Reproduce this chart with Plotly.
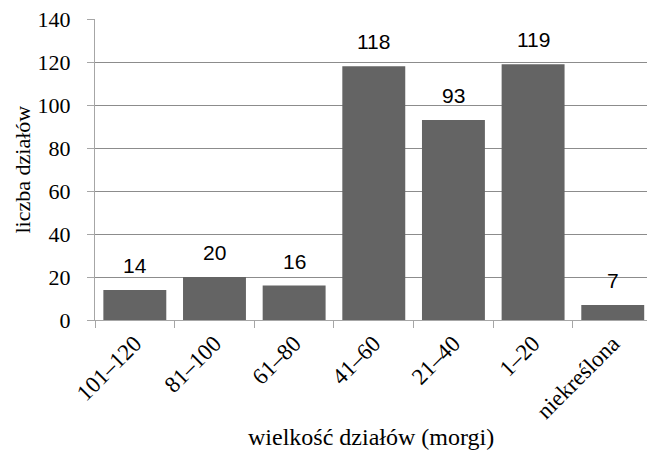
import plotly.graph_objects as go

categories = ["101–120", "81–100", "61–80", "41–60", "21–40", "1–20", "niekreślona"]
values = [14, 20, 16, 118, 93, 119, 7]
y_ticks = [0, 20, 40, 60, 80, 100, 120, 140]

serif = "Liberation Serif"

fig = go.Figure(go.Bar(
    x=categories, y=values,
    marker=dict(color="#646464", line=dict(width=0)),
    cliponaxis=False,
))

annotations = []
for c, v in zip(categories, values):
    annotations.append(dict(
        x=c, y=v, xref="x", yref="y", text=str(v), showarrow=False,
        yanchor="bottom", yshift=11,
        font=dict(family="Liberation Sans", size=21, color="#000000"),
    ))
annotations.append(dict(
    x=0.5, y=0, xref="paper", yref="paper", text="wielkość działów (morgi)",
    showarrow=False, xanchor="center", yanchor="middle", yshift=-117,
    font=dict(family=serif, size=24, color="#000000"),
))
annotations.append(dict(
    x=0, y=0.5, xref="paper", yref="paper", text="liczba działów",
    showarrow=False, xanchor="center", yanchor="middle", xshift=-73, textangle=-90,
    font=dict(family=serif, size=22, color="#000000"),
))

fig.update_layout(
    width=649, height=452,
    margin=dict(l=95, r=2, t=19, b=132),
    paper_bgcolor="white", plot_bgcolor="white",
    bargap=0.21,
    showlegend=False,
    annotations=annotations,
    xaxis=dict(
        type="category", tickangle=-45, tickson="boundaries",
        range=[-0.5, 6.43],
        ticks="outside", ticklen=7, tickcolor="#a6a6a6",
        showline=True, linecolor="#a6a6a6", linewidth=1,
        tickfont=dict(family=serif, size=23, color="#000000"),
    ),
    yaxis=dict(
        range=[0, 140], tickvals=y_ticks,
        ticks="outside", ticklen=7, tickcolor="#a6a6a6",
        ticklabelstandoff=12,
        showline=True, linecolor="#a6a6a6", linewidth=1,
        showgrid=True, gridcolor="#8c8c8c", gridwidth=1,
        zeroline=False,
        tickfont=dict(family=serif, size=22, color="#000000"),
    ),
)

fig.write_html("out.html")
